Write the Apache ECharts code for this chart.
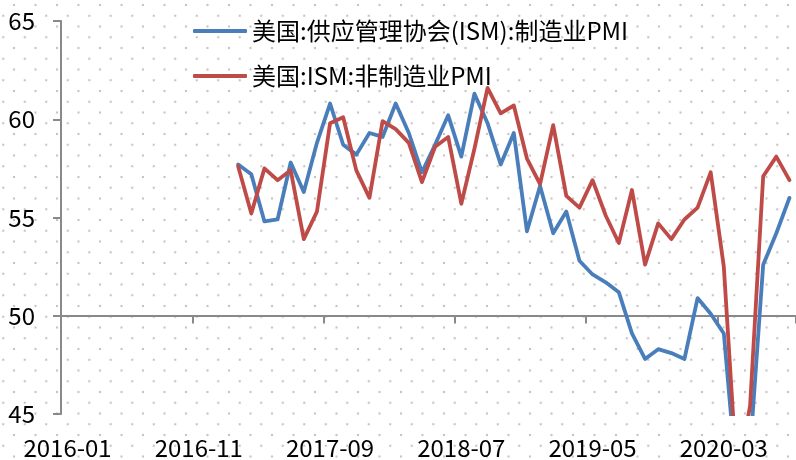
<!DOCTYPE html>
<html>
<head>
<meta charset="utf-8">
<script src="https://cdn.jsdelivr.net/npm/echarts@6/dist/echarts.min.js"></script>
<style>
  html, body { margin: 0; padding: 0; background: #fff; }
  #chart {
    width: 796px; height: 460px;
    background-color: #fff;
    /* dotted backdrop: staggered grey dots */
    background-image:
      radial-gradient(circle, #c4c4c4 0, #c4c4c4 0.9px, rgba(196,196,196,0) 1.6px),
      radial-gradient(circle, #c4c4c4 0, #c4c4c4 0.9px, rgba(196,196,196,0) 1.6px);
    background-size: 21.5px 21.5px, 21.5px 21.5px;
    background-position: 3.25px -5.75px, -7.5px 5px;
  }
</style>
</head>
<body>
<div id="chart"></div>
<script>
// Monthly axis, 2016-01 .. 2020-08
const categories = [
  '2016-01','2016-02','2016-03','2016-04','2016-05','2016-06','2016-07','2016-08','2016-09','2016-10','2016-11','2016-12',
  '2017-01','2017-02','2017-03','2017-04','2017-05','2017-06','2017-07','2017-08','2017-09','2017-10','2017-11','2017-12',
  '2018-01','2018-02','2018-03','2018-04','2018-05','2018-06','2018-07','2018-08','2018-09','2018-10','2018-11','2018-12',
  '2019-01','2019-02','2019-03','2019-04','2019-05','2019-06','2019-07','2019-08','2019-09','2019-10','2019-11','2019-12',
  '2020-01','2020-02','2020-03','2020-04','2020-05','2020-06','2020-07','2020-08'
];

// 2016-01 .. 2017-01 have no observations
const leadingGap = [null,null,null,null,null,null,null,null,null,null,null,null,null];

// ISM manufacturing PMI, 2017-02 .. 2020-08
const mfgPMI = [
  57.7, 57.2, 54.8, 54.9, 57.8, 56.3, 58.8, 60.8, 58.7, 58.2, 59.3,
  59.1, 60.8, 59.3, 57.3, 58.7, 60.2, 58.1, 61.3, 59.8, 57.7, 59.3, 54.3,
  56.6, 54.2, 55.3, 52.8, 52.1, 51.7, 51.2, 49.1, 47.8, 48.3, 48.1, 47.8,
  50.9, 50.1, 49.1, 41.5, 43.1, 52.6, 54.2, 56.0
];

// ISM non-manufacturing PMI, 2017-02 .. 2020-08
const nonMfgPMI = [
  57.6, 55.2, 57.5, 56.9, 57.4, 53.9, 55.3, 59.8, 60.1, 57.4, 56.0,
  59.9, 59.5, 58.8, 56.8, 58.6, 59.1, 55.7, 58.5, 61.6, 60.3, 60.7, 58.0,
  56.7, 59.7, 56.1, 55.5, 56.9, 55.1, 53.7, 56.4, 52.6, 54.7, 53.9, 54.9,
  55.5, 57.3, 52.5, 41.8, 45.4, 57.1, 58.1, 56.9
];

const seriesNames = ['美国:供应管理协会(ISM):制造业PMI', '美国:ISM:非制造业PMI'];
const yTicks = { min: 45, max: 65, step: 5 };
const refLevel = 50;

const FONT = '"Noto Sans CJK SC", "Noto Sans", sans-serif';
const AXIS_GREY = '#898989';
const gridTop = 21, gridBottom = 45, chartH = 460;
const plotH = chartH - gridTop - gridBottom;
// distance from the bottom edge of the plot up to the 50 line
const refOffset = (refLevel - yTicks.min) / (yTicks.max - yTicks.min) * plotH;

const chart = echarts.init(document.getElementById('chart'), null, { renderer: 'canvas' });

chart.setOption({
  backgroundColor: 'transparent',
  animation: false,
  grid: { left: 61, right: 0, top: gridTop, bottom: gridBottom, containLabel: false },
  legend: {
    orient: 'vertical',
    left: 193,
    top: 19,
    padding: 0,
    itemWidth: 54,
    itemHeight: 4,
    itemGap: 21,
    icon: 'roundRect',
    textStyle: { fontFamily: FONT, fontSize: 24, color: '#000', lineHeight: 24 },
    data: seriesNames
  },
  xAxis: [
    {
      // bottom axis carrying the date labels
      type: 'category',
      data: categories,
      boundaryGap: true,
      position: 'bottom',
      axisLine: { show: false },
      axisTick: { show: false },
      splitLine: { show: false },
      axisLabel: {
        interval: 9,
        margin: 22,
        fontFamily: FONT,
        fontSize: 24,
        color: '#000'
      }
    },
    {
      // axis line drawn across the plot at the 50 level
      type: 'category',
      data: categories,
      boundaryGap: true,
      position: 'bottom',
      offset: -refOffset,
      axisLine: { show: true, lineStyle: { color: AXIS_GREY, width: 2 } },
      axisTick: { show: true, interval: 9, length: 8, inside: false, lineStyle: { color: AXIS_GREY, width: 2 } },
      axisLabel: { show: false },
      splitLine: { show: false }
    }
  ],
  yAxis: {
    type: 'value',
    min: yTicks.min,
    max: yTicks.max,
    interval: yTicks.step,
    axisLine: { show: true, lineStyle: { color: AXIS_GREY, width: 2 } },
    axisTick: { show: true, length: 8, inside: false, lineStyle: { color: AXIS_GREY, width: 2 } },
    splitLine: { show: false },
    axisLabel: { margin: 26, fontFamily: FONT, fontSize: 24, color: '#000' }
  },
  series: [
    {
      name: seriesNames[0],
      type: 'line',
      xAxisIndex: 0,
      data: leadingGap.concat(mfgPMI),
      symbol: 'none',
      clip: true,
      itemStyle: { color: '#4a7ebb' },
      lineStyle: { color: '#4a7ebb', width: 3.8, cap: 'round', join: 'round' }
    },
    {
      name: seriesNames[1],
      type: 'line',
      xAxisIndex: 0,
      data: leadingGap.concat(nonMfgPMI),
      symbol: 'none',
      clip: true,
      itemStyle: { color: '#be4b48' },
      lineStyle: { color: '#be4b48', width: 3.8, cap: 'round', join: 'round' }
    }
  ]
});
</script>
</body>
</html>
